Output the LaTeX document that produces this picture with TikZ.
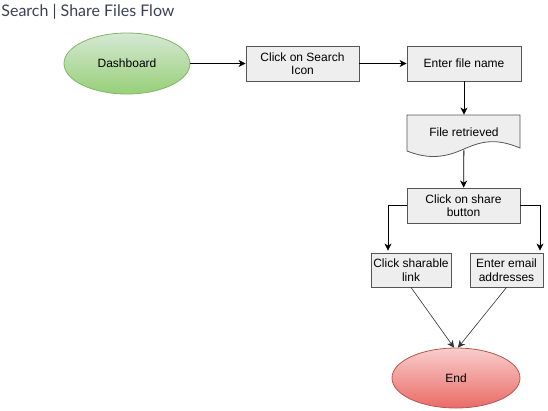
\documentclass[tikz,border=0pt]{standalone}
\usepackage{fontspec}
\setmainfont{Liberation Sans}
\newfontfamily\titlefont{Lato}
\usetikzlibrary{arrows.meta,shapes.geometric}

\definecolor{boxfill}{HTML}{EEEEEE}
\definecolor{boxline}{HTML}{555555}
\definecolor{titlecol}{HTML}{3B4256}
\definecolor{greentop}{HTML}{D5E8D4}
\definecolor{greenbot}{HTML}{97D077}
\definecolor{greenline}{HTML}{82B366}
\definecolor{redtop}{HTML}{F8CECC}
\definecolor{redbot}{HTML}{EA6B66}
\definecolor{redline}{HTML}{B85450}

\tikzset{
  flowbox/.style={draw=boxline, fill=boxfill, rectangle, align=center,
    font=\fontsize{12}{13.5}\selectfont, inner sep=1pt},
  startend/.style={ellipse, align=center, font=\fontsize{12}{13.5}\selectfont, inner sep=0pt},
  flowarrow/.style={-{Stealth[length=7pt,width=7pt,inset=2pt]}, black},
}

\begin{document}
\begin{tikzpicture}[x=1pt, y=1pt, line width=0.8pt]
% Page size, same as the reference
\useasboundingbox (0,0) rectangle (548,-410);

% Title
\node[anchor=base west, inner sep=0pt, text=titlecol, font=\titlefont\fontsize{16}{18}\selectfont] (title) at (1,-16) {Search | Share Files Flow};

% Start and end
\node[startend, draw=greenline, top color=greentop, bottom color=greenbot,
  minimum width=126, minimum height=61] (dash) at (127,-63.5) {Dashboard};
\node[startend, draw=redline, top color=redtop, bottom color=redbot,
  minimum width=128, minimum height=60] (end) at (456,-378) {End};

% Steps
\node[flowbox, minimum width=113, minimum height=35] (search) at (302.5,-63.5) {Click on Search\\Icon};
\node[flowbox, minimum width=114, minimum height=35] (fname) at (464,-63.5) {Enter file name};
% document shape with wavy bottom
\draw[draw=boxline, fill=boxfill] (407,-115) -- (520,-115) -- (520,-148)
  .. controls (496,-138) and (482,-141) .. (464,-149)
  .. controls (446,-157) and (430,-160) .. (407,-151) -- cycle;
\node[align=center, font=\fontsize{12}{13.5}\selectfont, minimum width=113, minimum height=35] (retr) at (464,-132.5) {File retrieved};
\node[flowbox, minimum width=113, minimum height=35] (share) at (463.5,-205.5) {Click on share\\button};
\node[flowbox, minimum width=80, minimum height=34] (link) at (411,-270) {Click sharable\\link};
\node[flowbox, minimum width=73, minimum height=34] (email) at (506.5,-270) {Enter email\\addresses};

% Connectors
\draw[flowarrow] (dash) -- (search);
\draw[flowarrow] (search) -- (fname);
\draw[flowarrow] (fname) -- (retr);
\draw[flowarrow] (retr) -- (share);
\draw[flowarrow] (share.west) -| ([xshift=-23pt, yshift=2pt]link.north);
\draw[flowarrow] (share.east) -| ([xshift=33.5pt, yshift=2pt]email.north);
\draw[flowarrow, draw=black!80, line width=0.6pt] (link.south) -- ([xshift=-2pt]end.north);
\draw[flowarrow, draw=black!80, line width=0.6pt] (email.south) -- ([xshift=2pt]end.north);
\end{tikzpicture}
\end{document}
